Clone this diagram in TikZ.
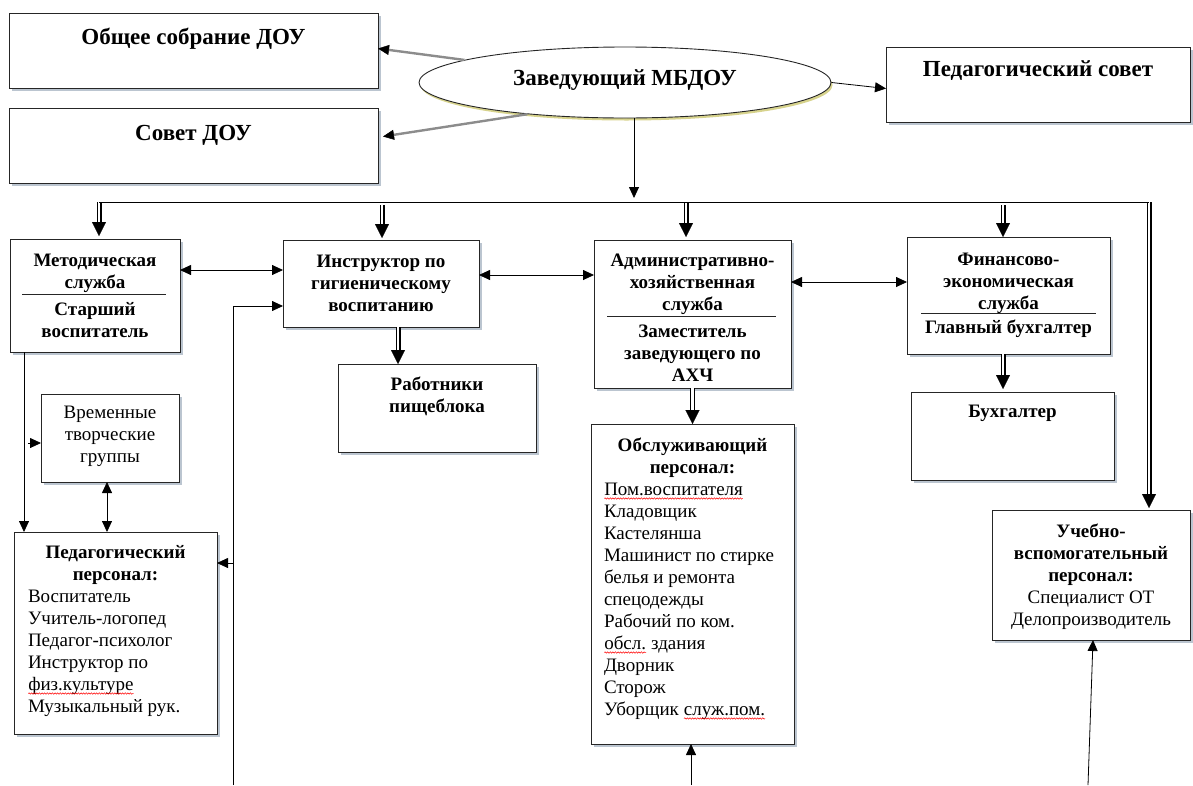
\documentclass[tikz,border=0pt]{standalone}
\usepackage{fontspec}
\setmainfont{Liberation Serif}
\usetikzlibrary{arrows.meta,shapes.geometric,shadows,decorations.pathmorphing}
\definecolor{shad}{RGB}{170,182,196}
\newcommand\redwave[1]{\tikz[baseline=(wv.base)]{\node[inner sep=0pt,outer sep=0pt](wv){#1};\draw[red,line width=0.5pt,decorate,decoration={snake,amplitude=0.7pt,segment length=2.6pt}]([yshift=-3.5pt]wv.base west)--([yshift=-3.5pt]wv.base east);}}
\newcommand\st{\rule[-5pt]{0pt}{22pt}}
\newcommand\bx[4]{\parbox[t][#2pt][t]{#1pt}{\vspace*{#3pt}\fontsize{19}{22}\selectfont\centering #4\par}}
\begin{document}
\begin{tikzpicture}[x=1pt,y=-1pt,
  box/.style={draw=black!85,line width=0.9pt,fill=white,inner sep=0pt,outer sep=0pt,anchor=north west,
    drop shadow={shadow xshift=2.5pt,shadow yshift=-2.5pt,fill=shad,opacity=0.8}},
  ell/.style={ellipse,draw=black!85,line width=0.9pt,fill=white,inner sep=0pt,minimum width=412pt,minimum height=71pt,
    drop shadow={shadow xshift=1.5pt,shadow yshift=-2.5pt,fill=olive!45,opacity=0.8}},
  tip/.tip={Triangle[length=11pt,width=10pt]},
  arr/.style={draw=black,line width=0.8pt,-{tip}},
  biarr/.style={draw=black,line width=0.8pt,{tip}-{tip}},
  grayarr/.style={draw=black!45,line width=2.4pt,-{Triangle[length=11pt,width=10pt,color=black,line width=0.5pt]}},
  plain/.style={draw=black,line width=1pt},
  sepline/.style={draw=black!85,line width=1pt},
  dbl/.style={draw=white,line width=2.6pt,-{Triangle[length=14pt,width=14pt,color=black,line width=0.1pt]},
    preaction={draw=black,line width=5pt,shorten >=12pt,-}}
]
\useasboundingbox (0,0) rectangle (1193,785);

% top level
\node[box] (A) at (9,13) {\bx{369}{75}{14}{\fontsize{23}{26}\selectfont\bfseries\st Общее собрание ДОУ}};
\node[box] (B) at (9,108) {\bx{369}{75}{15.5}{\fontsize{23}{26}\selectfont\bfseries\st Совет ДОУ}};
\node[box] (C) at (886,47) {\bx{304}{75}{12}{\fontsize{23}{26}\selectfont\bfseries\st Педагогический совет}};
\node[ell] (E) at (625,82.5) {\raisebox{-3pt}[0pt][0pt]{\fontsize{23}{26}\selectfont\bfseries Заведующий МБДОУ}};

% second row
\node[box] (M) at (10,239) {\bx{170}{113}{10}{\bfseries\st Методическая\\\st служба\\[5pt]\st Старший\\\st воспитатель}};
\node[box] (I) at (283,240) {\bx{196}{87}{10}{\bfseries\st Инструктор по\\\st гигиеническому\\\st воспитанию}};
\node[box] (AX) at (594,240) {\bx{197}{148}{9}{\bfseries\st Административно-\\\st хозяйственная\\\st служба\\[5pt]\st Заместитель\\\st заведующего по\\\st АХЧ}};
\node[box] (F) at (907,237) {\bx{203}{117}{11}{\bfseries\st Финансово-\\\st экономическая\\\st служба\\[2pt]\st Главный бухгалтер}};

% lower boxes
\node[box] (W) at (338,364) {\bx{198}{88}{9}{\bfseries\st Работники\\\st пищеблока}};
\node[box] (K) at (911,392) {\bx{203}{88}{8}{\bfseries\st Бухгалтер}};
\node[box] (T) at (41,394) {\bx{138}{88}{7}{\st Временные\\\st творческие\\\st группы}};
\node[box] (P) at (14,532) {\bx{203}{202}{9}{\bfseries\st Педагогический\\\st персонал:\par{\raggedright\leftskip=14pt\mdseries\st Воспитатель\\\st Учитель-логопед\\\st Педагог-психолог\\\st Инструктор по\\\st\redwave{физ.культуре}\\\st Музыкальный рук.\par}}};
\node[box] (O) at (591,424) {\bx{203}{320}{10}{\bfseries\st Обслуживающий\\\st персонал:\par{\raggedright\leftskip=13pt\mdseries\st\redwave{Пом.воспитателя}\\\st Кладовщик\\\st Кастелянша\\\st Машинист по стирке\\\st белья и ремонта\\\st спецодежды\\\st Рабочий по ком.\\\st\redwave{обсл.} здания\\\st Дворник\\\st Сторож\\\st Уборщик \redwave{служ.пом.}\par}}};
\node[box] (U) at (992,510) {\bx{198}{130}{10}{\bfseries\st Учебно-\\\st вспомогательный\\\st персонал:\\\mdseries\st Специалист ОТ\\\st Делопроизводитель}};

% separators
\draw[sepline] (22,294) -- (166,294);
\draw[sepline] (607,316) -- (776,316);
\draw[sepline] (921,313) -- (1096,313);

% coordinates
\coordinate (bl) at (99,202);
\coordinate (br) at (1149,202);
\coordinate (bj) at (634,202);
\coordinate (c2) at (382,205);
\coordinate (c3) at (686,202.5);
\coordinate (c4) at (1003,205);
\coordinate (h270) at (0,270);
\coordinate (h275) at (0,275);
\coordinate (h282) at (0,282);
\coordinate (v1) at (233,785);
\coordinate (h306) at (0,306);
\coordinate (h563) at (0,563);
\coordinate (x398) at (398,0);
\coordinate (o1) at (691,785);
\coordinate (u1) at (1088,785);
\coordinate (x24) at (24,0);
\coordinate (t0) at (28,443);
\coordinate (x107) at (107,0);

% connectors from the head
\draw[grayarr] (E.172) -- ([yshift=2pt]A.east);
\draw[grayarr] (E.198) -- ([xshift=5pt,yshift=9pt]B.east);
\draw[arr] (E.east) -- ([yshift=-4pt]C.west);
\draw[arr,shorten >=4pt] (E.south -| bj) -- (bj);
\draw[dbl,shorten >=3pt] (bl) -- (bl |- M.north);
\draw[dbl,shorten >=2pt] (c2) -- (c2 |- I.north);
\draw[dbl,shorten >=3pt] (c3) -- (c3 |- AX.north);
\draw[dbl] (c4) -- (c4 |- F.north);
\draw[dbl,shorten >=2pt] (br) -- (br |- U.north);
\draw[plain] (bl) -- (br);

% horizontal links
\draw[biarr] (M.east |- h270) -- (I.west |- h270);
\draw[biarr] (I.east |- h275) -- (AX.west |- h275);
\draw[biarr] (AX.east |- h282) -- (F.west |- h282);

% lower links
\draw[dbl] (I.south -| x398) -- (W.north -| x398);
\draw[dbl] (AX.south) -- (O.north);
\draw[dbl,shorten >=3pt] (F.south -| c4) -- (K.north -| c4);
\draw[arr] (v1) |- (I.west |- h306);
\draw[arr] (v1 |- h563) -- (P.east |- h563);
\draw[arr] (o1) -- (O.south -| o1);
\draw[arr] (u1) -- ([xshift=2pt]U.south);
\draw[arr] (M.south -| x24) -- (P.north -| x24);
\draw[arr] (t0) -- (T.west |- t0);
\draw[biarr] (T.south -| x107) -- (P.north -| x107);
\end{tikzpicture}
\end{document}
